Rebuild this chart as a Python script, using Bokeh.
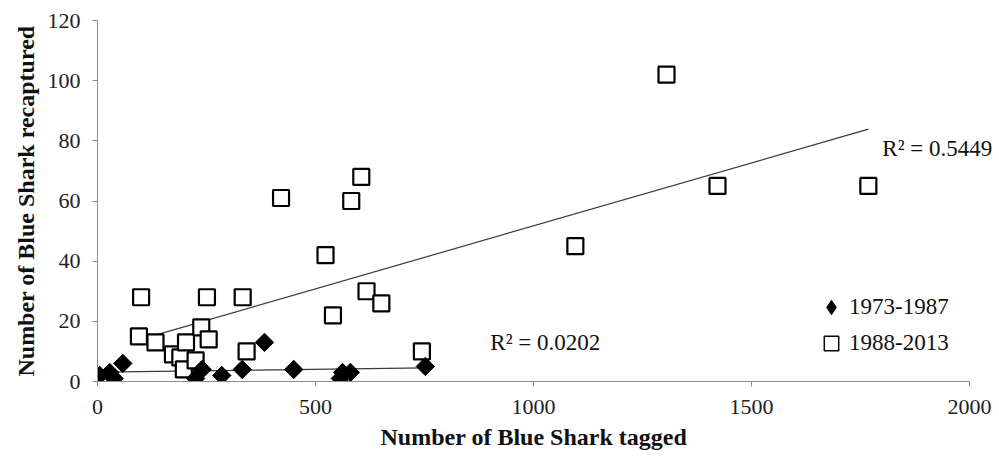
import math
import numpy as np
from bokeh.plotting import figure
from bokeh.models import ColumnDataSource, Legend, LegendItem, Label, Range1d, FixedTicker, Title
from bokeh.embed import file_html
from bokeh.resources import INLINE

# Blue shark tag-recapture counts per release area/year block
tagged_1973_1987 = [5, 28, 38, 58, 225, 240, 285, 332, 383, 450, 557, 562, 580, 752]
recaptured_1973_1987 = [2, 3, 1, 6, 1, 4, 2, 4, 13, 4, 1, 3, 3, 5]

tagged_1988_2013 = [95, 100, 133, 173, 190, 198, 203, 225, 238, 251, 255, 333, 342,
                    421, 523, 540, 582, 605, 617, 651, 744, 1096, 1305, 1422, 1768]
recaptured_1988_2013 = [15, 28, 13, 9, 8, 4, 13, 7, 18, 28, 14, 28, 10,
                        61, 42, 22, 60, 68, 30, 26, 10, 45, 102, 65, 65]

x_ticks = [0, 500, 1000, 1500, 2000]
y_ticks = [0, 20, 40, 60, 80, 100, 120]
r2_labels = ["R\u00b2 = 0.0202", "R\u00b2 = 0.5449"]
series_names = ["1973-1987", "1988-2013"]
x_title = "Number of Blue Shark tagged"
y_title = "Number of Blue Shark recaptured"

FONT = "Liberation Serif"
X_MAX = 2000
# the frame runs past the axis end so the right-hand R² note is not cut off
FRAME_W, AXIS_W = 902, 872

p = figure(width=999, height=459, output_backend="svg", toolbar_location=None,
           x_range=Range1d(0, X_MAX * FRAME_W / AXIS_W), y_range=Range1d(0, 120),
           min_border_left=97, min_border_right=0, min_border_top=20, min_border_bottom=78)
p.outline_line_color = None
p.xgrid.visible = False
p.ygrid.visible = False
p.background_fill_color = "white"
p.border_fill_color = "white"

for ax in (p.xaxis[0], p.yaxis[0]):
    ax.axis_line_color = "#8c8c8c"
    ax.major_tick_line_color = "#8c8c8c"
    ax.minor_tick_line_color = None
    ax.major_tick_in = 0
    ax.major_tick_out = 5
    ax.major_label_text_font = FONT
    ax.major_label_text_font_size = "22px"
    ax.major_label_text_color = "#222222"
    ax.axis_label_text_font = FONT
    ax.axis_label_text_font_size = "24px"
    ax.axis_label_text_font_style = "bold"
    ax.axis_label_text_color = "#111111"

p.xaxis.bounds = (0, X_MAX)
p.xaxis.ticker = FixedTicker(ticks=x_ticks)
p.yaxis.ticker = FixedTicker(ticks=y_ticks)
p.yaxis.axis_label = y_title
p.xaxis.major_label_standoff = 13
p.yaxis.major_label_standoff = 12
p.yaxis.axis_label_standoff = 6

# x title placed under the axis span (0..2000), not under the wider frame
p.add_layout(Title(text=x_title, align="left", offset=283, text_font=FONT,
                   text_font_size="24px", text_font_style="bold", text_color="#111111",
                   standoff=10), "below")

src_old = ColumnDataSource(dict(x=tagged_1973_1987, y=recaptured_1973_1987))
src_new = ColumnDataSource(dict(x=tagged_1988_2013, y=recaptured_1988_2013))

# Linear trendlines fitted over each series' tagged range
def trend(xs, ys):
    k, b = np.polyfit(xs, ys, 1)
    lo, hi = min(xs), max(xs)
    return [lo, hi], [k * lo + b, k * hi + b]

tx, ty = trend(tagged_1988_2013, recaptured_1988_2013)
p.line(tx, ty, line_color="#3a3a3a", line_width=1.2)
tx, ty = trend(tagged_1973_1987, recaptured_1973_1987)
p.line(tx, ty, line_color="#3a3a3a", line_width=1.2)

r_new = p.scatter("x", "y", source=src_new, marker="square", size=16,
                  fill_color="white", line_color="black", line_width=2.2)
r_old = p.scatter("x", "y", source=src_old, marker="square", size=13, angle=math.pi / 4,
                  fill_color="black", line_color="black", line_width=1)

# legend keys (legend glyphs are drawn unrotated, so use a diamond marker there)
nan = float("nan")
key_old = p.scatter(x=[nan], y=[nan], marker="diamond", fill_color="black", line_color="black")
key_new = p.scatter(x=[nan], y=[nan], marker="square", fill_color="white", line_color="black",
                    line_width=1.5)

p.add_layout(Label(x=901, y=13.1, text=r2_labels[0], text_font=FONT, text_font_size="23px",
                   text_baseline="middle", text_color="#111111"))
p.add_layout(Label(x=1800, y=77.5, text=r2_labels[1], text_font=FONT, text_font_size="23px",
                   text_baseline="middle", text_color="#111111"))

legend = Legend(items=[LegendItem(label=series_names[0], renderers=[key_old]),
                       LegendItem(label=series_names[1], renderers=[key_new])],
                location=(716, 20), orientation="vertical",
                glyph_width=36, glyph_height=36, label_standoff=0, spacing=0,
                padding=0, margin=0, border_line_color=None, background_fill_alpha=0,
                label_text_font=FONT, label_text_font_size="23px", label_text_color="#111111",
                label_height=35)
p.add_layout(legend, "center")

open("out.html", "w").write(file_html(p, INLINE))
